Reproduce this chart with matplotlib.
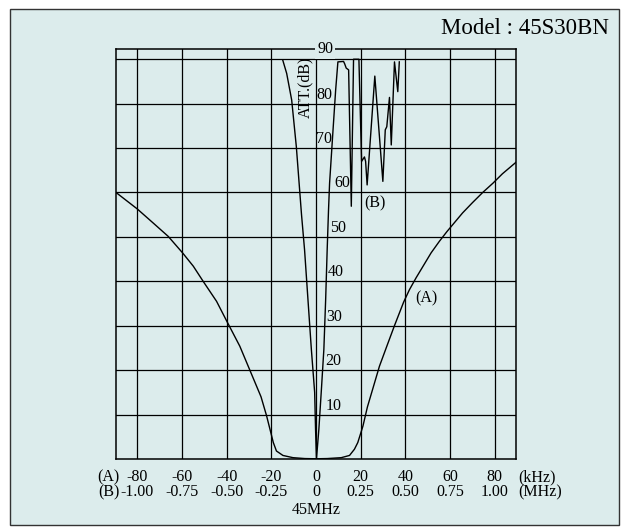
import matplotlib
matplotlib.use('Agg')
import matplotlib.pyplot as plt
from matplotlib.patches import Rectangle
from matplotlib.transforms import offset_copy

plt.rcParams['font.family'] = ['Liberation Serif', 'DejaVu Serif']

bg = '#dcecec'

# curve (A): kHz scale
a_khz = [-89.5, -80, -72.8, -66.1, -59.7, -54.9, -50.5, -44.5, -39.9, -34.1, -29.6,
         -24.6, -22.1, -19.1, -17.7, -14.8, -10.3, -5, 0, 5, 11.3, 15, 17.2, 18.7,
         21, 23, 28.4, 31.7, 35.1, 39.2, 41.8, 44.8, 51.5, 55.2, 58.6, 65.6, 70,
         74.6, 79.2, 83.4, 89.5]
a_db = [60, 56.3, 53.1, 50.1, 46.4, 43.4, 40, 35.5, 31, 25.4, 20,
        14, 9.7, 3.7, 1.8, 0.8, 0.3, 0.1, 0.05, 0.1, 0.3, 0.8, 2.2, 3.7,
        7.4, 11.7, 20.9, 25.4, 30, 35.3, 38.1, 40.8, 46.4, 49, 51.2, 55.4, 57.7,
        60, 62.1, 64.2, 66.8]

# curve (B): MHz scale
b_mhz = [-0.186, -0.164, -0.136, -0.110, -0.081, -0.064, -0.045, -0.026, -0.0075,
         -0.0025, 0.0025, 0.016, 0.030, 0.044, 0.054, 0.0625, 0.070, 0.076, 0.094,
         0.110, 0.1225, 0.154, 0.160, 0.169, 0.1825, 0.1975, 0.21, 0.24, 0.255,
         0.271, 0.2775, 0.286, 0.329, 0.374, 0.3875, 0.396, 0.411, 0.421, 0.439,
         0.4575, 0.466]
b_db = [89.8, 86.8, 80.8, 70.3, 55, 47.1, 35.9, 24.7, 15,
        6.7, 0, 6.7, 15.5, 24.7, 35.9, 47.1, 56, 62.1, 73.3,
        83.1, 89.4, 89.5, 89, 88, 87.6, 56.9, 90, 90, 67,
        68, 67, 61.7, 86.2, 62.5, 74.1, 74.8, 81.4, 70.7, 89.4,
        82.7, 89.4]

a_ticks = [-80, -60, -40, -20, 0, 20, 40, 60, 80]
a_tick_labels = ['-80', '-60', '-40', '-20', '0', '20', '40', '60', '80']
b_ticks = [-1.0, -0.75, -0.5, -0.25, 0, 0.25, 0.5, 0.75, 1.0]
b_tick_labels = ['-1.00', '-0.75', '-0.50', '-0.25', '0', '0.25', '0.50', '0.75', '1.00']
db_ticks = [10, 20, 30, 40, 50, 60, 70, 80, 90]
db_labels = ['10', '20', '30', '40', '50', '60', '70', '80', '90']
# pixel shift of each dB label to the right of the 0 line (keeps clear of curve B)
db_label_dx = [10, 9, 10, 12, 14, 18, 0, 0]

fig = plt.figure(figsize=(6.24, 5.30), dpi=100)
fig.patch.set_facecolor('white')
fig.patches.append(Rectangle((10 / 624, 5 / 530), 609 / 624, 516 / 530, zorder=-10,
                             transform=fig.transFigure, fc=bg, ec='#333333', lw=1.0))

ax = fig.add_axes([116 / 624, 71 / 530, 400 / 624, 410 / 530])
ax.set_facecolor(bg)
ax.set_xlim(-89.5, 89.5)
ax.set_ylim(0, 92.3)
ax.set_xticks(a_ticks)
ax.set_yticks(db_ticks)
ax.tick_params(length=0, labelbottom=False, labelleft=False)
ax.grid(True, color='black', lw=0.9)
for sp in ax.spines.values():
    sp.set_linewidth(1.1)

ax2 = ax.twiny()
ax2.set_xlim(-89.5 / 80, 89.5 / 80)
ax2.set_ylim(0, 92.3)
ax2.axis('off')

ax.plot(a_khz, a_db, color='black', lw=1.0)
ax2.plot(b_mhz, b_db, color='black', lw=1.0)

fs = 11.5
# x tick rows
trA = offset_copy(ax.get_xaxis_transform(), fig=fig, y=-18, units='dots')
trB = offset_copy(ax2.get_xaxis_transform(), fig=fig, y=-33, units='dots')
for v, lab in zip(a_ticks, a_tick_labels):
    ax.text(v, 0, lab, transform=trA, ha='center', va='center', fontsize=fs)
for v, lab in zip(b_ticks, b_tick_labels):
    ax2.text(v, 0, lab, transform=trB, ha='center', va='center', fontsize=fs)
ax.text(0, 0, '(A)', transform=offset_copy(ax.transAxes, fig=fig, x=3, y=-18, units='dots'),
        ha='right', va='center', fontsize=fs)
ax.text(0, 0, '(B)', transform=offset_copy(ax.transAxes, fig=fig, x=4, y=-33, units='dots'),
        ha='right', va='center', fontsize=fs)
ax.text(1, 0, '(kHz)', transform=offset_copy(ax.transAxes, fig=fig, x=2, y=-18, units='dots'),
        ha='left', va='center', fontsize=fs)
ax.text(1, 0, '(MHz)', transform=offset_copy(ax.transAxes, fig=fig, x=2, y=-33, units='dots'),
        ha='left', va='center', fontsize=fs)
ax.text(0, 0, '45MHz', transform=offset_copy(ax.get_xaxis_transform(), fig=fig, y=-51, units='dots'),
        ha='center', va='center', fontsize=fs)

# dB labels beside the 0 line
for v, lab, dx in zip(db_ticks[:-1], db_labels[:-1], db_label_dx):
    ax.text(0, v, lab, transform=offset_copy(ax.transData, fig=fig, x=dx, y=5, units='dots'),
            ha='left', va='baseline', fontsize=fs)
ax.text(0, 1, db_labels[-1], transform=offset_copy(ax.get_xaxis_transform(), fig=fig, x=1, units='dots'),
        ha='left', va='center', fontsize=fs,
        bbox=dict(fc=bg, ec='none', pad=1.5))
ax.text(0.474, 0.906, 'ATT.(dB)', transform=ax.transAxes, rotation=90,
        ha='center', va='center', fontsize=fs)

ax.text(49.4, 36.2, '(A)', ha='center', va='center', fontsize=fs)
ax2.text(0.329, 57.6, '(B)', ha='center', va='center', fontsize=fs)

fig.text(609 / 624, (530 - 28) / 530, 'Model : 45S30BN', ha='right', va='center', fontsize=16.5)

fig.savefig('out.png', dpi=100, facecolor=fig.get_facecolor())
